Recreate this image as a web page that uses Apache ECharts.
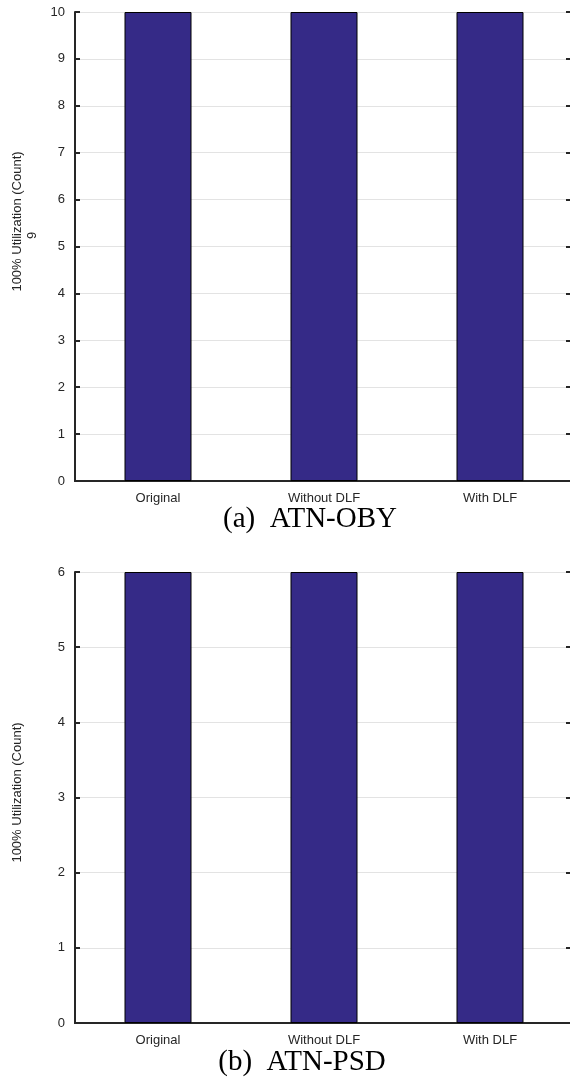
<!DOCTYPE html>
<html>
<head>
<meta charset="utf-8">
<script src="https://cdn.jsdelivr.net/npm/echarts@6/dist/echarts.min.js"></script>
<style>html,body{margin:0;padding:0;background:#fff;}#c{width:570px;height:1092px;}</style>
</head>
<body>
<div id="c"></div>
<script>
const categories = ['Original', 'Without DLF', 'With DLF'];
const valuesOBY = [10, 10, 10];
const valuesPSD = [6, 6, 6];
const yMaxOBY = 10;
const yMaxPSD = 6;
const yLabel = '100% Utilization (Count)';
const yLabelExtra = '9';
const captions = ['(a)  ATN-OBY', '(b)  ATN-PSD'];

const axisColor = '#262626';
const barColor = '#352A87';
const font = 'Liberation Sans, Arial, Helvetica, sans-serif';

const chart = echarts.init(document.getElementById('c'), null, {renderer: 'canvas'});

const grids = [
  {left: 75, top: 12, width: 498, height: 469, outerBoundsMode: 'none', containLabel: false},
  {left: 75, top: 572, width: 498, height: 451, outerBoundsMode: 'none', containLabel: false}
];

function xAxes(gi) {
  return [
    {type: 'category', gridIndex: gi, data: categories, position: 'bottom',
     axisLine: {show: true, lineStyle: {color: axisColor, width: 2}},
     axisTick: {show: false},
     axisLabel: {color: axisColor, fontSize: 13, fontFamily: font, margin: 11},
     splitLine: {show: false}},
    {type: 'category', gridIndex: gi, data: categories, position: 'top',
     axisLine: {show: true, lineStyle: {color: axisColor, width: 2}},
     axisTick: {show: false}, axisLabel: {show: false}, splitLine: {show: false}}
  ];
}
function yAxes(gi, max, name, nameGap, rich) {
  return [
    {type: 'value', gridIndex: gi, min: 0, max: max, interval: 1, position: 'left',
     name: name, nameLocation: 'middle', nameRotate: 90, nameGap: nameGap,
     nameTextStyle: {color: axisColor, fontSize: 13, fontFamily: font, lineHeight: 15, rich: rich},
     axisLine: {show: true, lineStyle: {color: axisColor, width: 2}},
     axisTick: {show: true, inside: true, length: 5, lineStyle: {color: axisColor, width: 2}},
     axisLabel: {color: axisColor, fontSize: 13, fontFamily: font, margin: 10},
     splitLine: {show: true, lineStyle: {color: '#e3e3e3', width: 1}}},
    {type: 'value', gridIndex: gi, min: 0, max: max, interval: 1, position: 'right',
     axisLine: {show: true, lineStyle: {color: axisColor, width: 2}},
     axisTick: {show: true, inside: true, length: 7, lineStyle: {color: axisColor, width: 2}},
     axisLabel: {show: false}, splitLine: {show: false}}
  ];
}

const richTop = {
  a: {color: axisColor, fontSize: 13, fontFamily: font, lineHeight: 15, padding: [0, 0, 0, 50]},
  b: {color: axisColor, fontSize: 13, fontFamily: font, lineHeight: 15, padding: [0, 0, 0, 22]}
};
const richBottom = {
  a: {color: axisColor, fontSize: 13, fontFamily: font, lineHeight: 15, padding: [0, 0, 0, 10]}
};

const option = {
  animation: false,
  backgroundColor: '#fff',
  grid: grids,
  xAxis: [...xAxes(0), ...xAxes(1)],
  yAxis: [
    ...yAxes(0, yMaxOBY, '{a|' + yLabel + '}\n{b|' + yLabelExtra + '}', 35, richTop),
    ...yAxes(1, yMaxPSD, '{a|' + yLabel + '}', 50, richBottom)
  ],
  series: [
    {type: 'bar', xAxisIndex: 0, yAxisIndex: 0, data: valuesOBY, barWidth: 67,
     itemStyle: {color: barColor, borderColor: '#000', borderWidth: 1}},
    {type: 'bar', xAxisIndex: 2, yAxisIndex: 2, data: valuesPSD, barWidth: 67,
     itemStyle: {color: barColor, borderColor: '#000', borderWidth: 1}}
  ],
  graphic: [
    {type: 'text', x: 310, y: 519, style: {text: captions[0], font: '29px "Liberation Serif", "Times New Roman", serif', fill: '#000', align: 'center', verticalAlign: 'middle'}},
    {type: 'text', x: 302, y: 1062, style: {text: captions[1], font: '29px "Liberation Serif", "Times New Roman", serif', fill: '#000', align: 'center', verticalAlign: 'middle'}}
  ]
};
chart.setOption(option);
</script>
</body>
</html>
